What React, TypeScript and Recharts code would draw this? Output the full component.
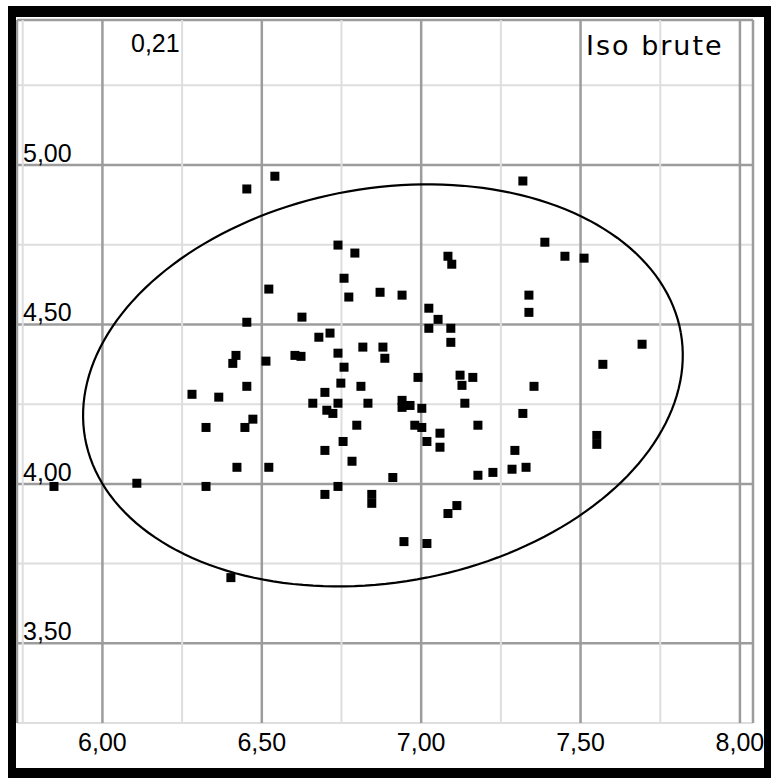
import React from 'react'
import { ScatterChart, Scatter, XAxis, YAxis, CartesianGrid, ZAxis } from 'recharts'

// measured values (x = horizontal, y = vertical)
const pointX = [
  6.453, 6.541, 7.319, 6.739, 6.792, 7.084, 7.096, 7.388, 7.451, 7.511,
  6.758, 6.773, 6.522, 6.871, 6.940, 7.338, 7.338, 6.453, 6.626, 7.024,
  7.053, 7.024, 7.093, 7.093, 6.679, 6.714, 7.693, 6.419, 6.409, 6.513,
  6.604, 6.623, 6.739, 6.817, 6.880, 6.886, 6.758, 7.570, 7.122, 7.128,
  7.162, 6.990, 6.748, 6.453, 6.811, 7.354, 6.281, 6.698, 6.365, 6.660,
  6.739, 6.704, 6.723, 6.833, 6.940, 6.940, 6.965, 7.002, 7.137, 7.319,
  6.472, 6.447, 6.325, 6.798, 6.980, 7.002, 7.178, 7.059, 7.018, 7.059,
  6.755, 7.551, 7.551, 7.294, 6.698, 6.783, 6.422, 6.522, 6.911, 7.178,
  7.225, 7.285, 7.329, 6.108, 5.848, 6.325, 6.739, 6.698, 6.845, 6.845,
  7.112, 7.084, 6.946, 7.018, 6.403,
]
const pointY = [
  4.925, 4.965, 4.950, 4.749, 4.724, 4.714, 4.689, 4.758, 4.714, 4.708,
  4.645, 4.586, 4.611, 4.601, 4.592, 4.592, 4.538, 4.507, 4.523, 4.551,
  4.516, 4.488, 4.488, 4.444, 4.460, 4.473, 4.438, 4.403, 4.378, 4.385,
  4.403, 4.400, 4.410, 4.429, 4.429, 4.394, 4.366, 4.375, 4.341, 4.309,
  4.334, 4.334, 4.316, 4.306, 4.306, 4.306, 4.281, 4.287, 4.272, 4.253,
  4.253, 4.231, 4.221, 4.253, 4.262, 4.240, 4.246, 4.237, 4.253, 4.221,
  4.203, 4.177, 4.177, 4.184, 4.184, 4.177, 4.184, 4.159, 4.133, 4.115,
  4.133, 4.152, 4.124, 4.105, 4.105, 4.071, 4.052, 4.052, 4.020, 4.027,
  4.036, 4.046, 4.052, 4.002, 3.992, 3.992, 3.992, 3.967, 3.967, 3.939,
  3.932, 3.907, 3.819, 3.813, 3.706,
]

// confidence ellipse parameters
const ellipseCenter = [6.88, 4.309]
const ellipseAxes = [0.949, 0.618]
const ellipseAngleDeg = 10

// grid / tick values
const xTicks = [5.75, 6, 6.25, 6.5, 6.75, 7, 7.25, 7.5, 7.75, 8]
const yTicks = [3.25, 3.5, 3.75, 4, 4.25, 4.5, 4.75, 5, 5.25]
const xDomain = [5.732, 8.041]
const yDomain = [3.25, 5.455]

const cornerLabel = '0,21'
const title = 'Iso brute'

const FONT = '"Liberation Sans", Arial, sans-serif'

const fmt = (v: number) => v.toFixed(2).replace('.', ',')
const isMajor = (v: number) => Math.abs(v * 2 - Math.round(v * 2)) < 1e-6

const points = pointX.map((x, i) => ({ x, y: pointY[i] }))

const ellipsePoints = (() => {
  const a = (ellipseAngleDeg * Math.PI) / 180
  const out: { x: number; y: number }[] = []
  for (let i = 0; i <= 180; i++) {
    const t = (i / 180) * Math.PI * 2
    const ex = ellipseAxes[0] * Math.cos(t)
    const ey = ellipseAxes[1] * Math.sin(t)
    out.push({
      x: ellipseCenter[0] + ex * Math.cos(a) - ey * Math.sin(a),
      y: ellipseCenter[1] + ex * Math.sin(a) + ey * Math.cos(a),
    })
  }
  return out
})()

const gridLine = (ticks: number[]) => (props: any) => {
  const { x1, y1, x2, y2, index } = props
  const major = isMajor(ticks[index] ?? 0)
  return (
    <line
      key={`g-${index}-${x1}-${y1}`}
      x1={x1}
      y1={y1}
      x2={x2}
      y2={y2}
      stroke={major ? '#9c9c9c' : '#dedede'}
      strokeWidth={major ? 2.5 : 2}
    />
  )
}

const SquareDot = (props: any) => {
  const { cx, cy } = props
  if (cx == null || cy == null) return <g />
  return <rect x={cx - 4.5} y={cy - 4.5} width={9} height={9} fill="#000" />
}

const YTick = (props: any) => {
  const { x, y, payload } = props
  if (!isMajor(payload.value)) return <g />
  return (
    <text x={x + 6} y={y - 3} fontSize={25} fontFamily={FONT} fill="#000" textAnchor="start">
      {fmt(payload.value)}
    </text>
  )
}

export default function App() {
  return (
    <div style={{ position: 'absolute', left: 0, top: 0, width: 771, height: 778, background: '#fff' }}>
      <div
        style={{
          position: 'absolute',
          left: 8,
          top: 6,
          width: 763,
          height: 772,
          boxSizing: 'border-box',
          borderStyle: 'solid',
          borderColor: '#000',
          borderWidth: '11px 7px 10px 8px',
        }}
      />
      <div style={{ position: 'absolute', left: 16, top: 17 }}>
        <ScatterChart width={748} height={751} margin={{ top: 3, right: 11, bottom: 0, left: 0 }}>
          <CartesianGrid
            horizontal={gridLine(yTicks)}
            vertical={gridLine(xTicks)}
          />
          <XAxis
            type="number"
            dataKey="x"
            domain={xDomain}
            ticks={xTicks}
            interval={0}
            allowDataOverflow
            height={45}
            axisLine={false}
            tickLine={false}
            tickSize={0}
            tickMargin={10}
            tickFormatter={(v: number) => (isMajor(v) ? fmt(v) : '')}
            tick={{ fontSize: 25, fill: '#000', fontFamily: FONT }}
          />
          <YAxis
            type="number"
            dataKey="y"
            domain={yDomain}
            ticks={yTicks}
            interval={0}
            allowDataOverflow
            width={1}
            axisLine={false}
            tickLine={false}
            tickSize={0}
            tickMargin={0}
            tick={<YTick />}
          />
          <ZAxis range={[60, 60]} />
          <Scatter
            data={ellipsePoints}
            line={{ stroke: '#000', strokeWidth: 2.2 }}
            lineType="joint"
            shape={() => <g />}
            isAnimationActive={false}
          />
          <Scatter data={points} shape={<SquareDot />} isAnimationActive={false} />
        </ScatterChart>
      </div>
      <svg
        width={771}
        height={778}
        style={{ position: 'absolute', left: 0, top: 0, pointerEvents: 'none' }}
      >
        <text x={131} y={52} fontSize={25} fontFamily={FONT} fill="#000">
          {cornerLabel}
        </text>
        <text x={586} y={55} fontSize={27} fontFamily='"DejaVu Sans", sans-serif' letterSpacing={2} fill="#000">
          {title}
        </text>
      </svg>
    </div>
  )
}
